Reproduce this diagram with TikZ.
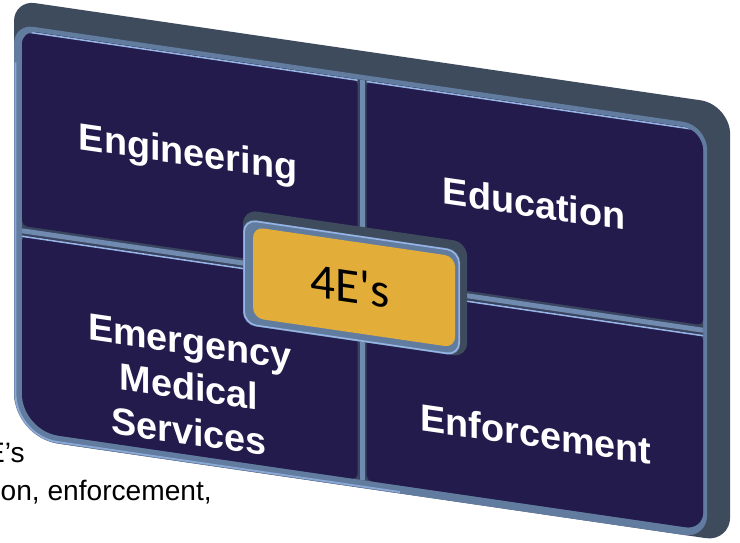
\documentclass[tikz,border=0pt]{standalone}
\usepackage{fontspec}
\setmainfont{Liberation Sans}
\newfontfamily\calibfont{Carlito}

\definecolor{panelnavy}{RGB}{34,27,76}
\definecolor{sideslate}{RGB}{62,75,92}
\definecolor{rimblue}{RGB}{98,124,160}
\definecolor{glowblue}{RGB}{150,180,228}
\definecolor{divgray}{RGB}{58,70,96}
\definecolor{ridgeblue}{RGB}{112,138,176}
\definecolor{goldfill}{RGB}{227,173,58}

% box with its own radius at each corner: x1,y1,x2,y2, then top-left, top-right, bottom-right, bottom-left
\newcommand{\cornerbox}[8]{(#1,{(#2+#4)/2}) [rounded corners=#5] -- (#1,#2) -- ({(#1+#3)/2},#2)
  [rounded corners=#6] -- (#3,#2) -- (#3,{(#2+#4)/2})
  [rounded corners=#7] -- (#3,#4) -- ({(#1+#3)/2},#4)
  [rounded corners=#8] -- (#1,#4) -- cycle}

\tikzset{
  sidefill/.style={fill=sideslate},
  rimfill/.style={fill=rimblue},
  quadfill/.style={fill=panelnavy, rounded corners=3pt},
  hilite/.style={draw=glowblue, line width=0.9pt},
  divline/.style={draw=ridgeblue, line width=2.8pt},
  boardtxt/.style={text=white, font=\bfseries\fontsize{21.5}{25}\selectfont, anchor=base, inner sep=0pt, transform shape},
  goldtxt/.style={text=black, font=\calibfont\fontsize{28}{30}\selectfont, anchor=base, inner sep=0pt, transform shape},
  behindtxt/.style={text=black, font=\fontsize{16}{18}\selectfont, inner sep=0pt}
}

\begin{document}
\begin{tikzpicture}
\useasboundingbox (0,0) rectangle (14.8,-10.84);
\clip (0,0) rectangle (14.8,-10.84);

% text lines lying behind the board, cut at the left margin
\begin{scope}[x=0.02cm, y=-0.02cm]
  \node[behindtxt, anchor=base east] (esline) at (25,462) {E’s};
  \node[behindtxt, anchor=base east] (enfline) at (212,500) {on, enforcement,};
\end{scope}

% the board, drawn in slanted pixel coordinates
\begin{scope}[x=0.02cm, y=-0.02cm, yslant=-0.146]
  % side and face rim
  \fill[sidefill] \cornerbox{14}{-2}{730}{435}{12pt}{17pt}{14pt}{26pt};
  \fill[rimfill] \cornerbox{14}{22}{707}{435}{11pt}{14pt}{13pt}{25pt};
  \draw[draw=glowblue!80!rimblue, line width=1pt] (15.5,60) -- (15.5,390)
    [rounded corners=24pt] -- (15.5,433.5) -- (400,433.5);

  % four quadrants
  \begin{scope}
    \clip \cornerbox{22}{27}{703}{427}{8pt}{12pt}{10pt}{21pt};
    \fill[divgray] (22,27) rectangle (703,427);
    \draw[divline] (362,27) -- (362,427);
    \draw[divline] (22,227.5) -- (703,227.5);
    \fill[quadfill] (22,27) rectangle (357.5,222.5);
    \fill[quadfill] (366.5,27) rectangle (703,222.5);
    \fill[quadfill] (22,232) rectangle (357.5,427);
    \fill[quadfill] (366.5,232) rectangle (703,427);
    \draw[hilite] (22,28) -- (357.5,28);
    \draw[hilite] (366.5,28) -- (703,28);
    \draw[hilite] (22,233) -- (357.5,233);
    \draw[hilite] (366.5,233) -- (703,233);
  \end{scope}

  % centre box
  \fill[sidefill, rounded corners=8pt] (243,174) rectangle (467,289);
  \fill[rimfill, rounded corners=7pt] (243,183) rectangle (460,289);
  \draw[hilite, rounded corners=7pt] (244,184) rectangle (459,288);
  \fill[goldfill, rounded corners=6pt] (253,190) rectangle (455,281);

  % labels
  \node[boardtxt] (engtxt) at (188,137.5) {Engineering};
  \node[boardtxt] (edutxt) at (534,139) {Education};
  \node[boardtxt] (emsA) at (190,327) {Emergency};
  \node[boardtxt] (emsB) at (189,372) {Medical};
  \node[boardtxt] (emsC) at (189,417) {Services};
  \node[boardtxt] (enftxt) at (536,369) {Enforcement};
  \node[goldtxt] (fourE) at (350,251) {4E\textquotesingle s};
\end{scope}
\end{tikzpicture}
\end{document}
